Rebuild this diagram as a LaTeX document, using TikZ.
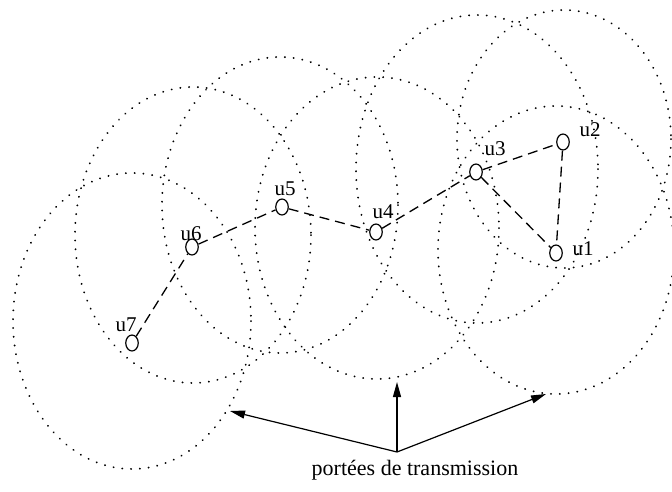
\documentclass[tikz,border=0pt]{standalone}
\usepackage{fontspec}
\setmainfont{Liberation Serif}
\usetikzlibrary{arrows.meta,shapes.geometric}
\begin{document}
\begin{tikzpicture}[x=1pt,y=-1pt,
  reach/.style={draw=black, line width=1.9pt, line cap=round,
                dash pattern=on 0.2pt off 8.6pt},
  station/.style={draw, ellipse, line width=1.2pt, inner sep=0pt,
                  minimum width=12.5pt, minimum height=16pt},
  hoplink/.style={draw, line width=1.3pt, dash pattern=on 10pt off 6pt},
  stname/.style={font=\fontsize{21}{21}\selectfont, inner sep=0pt, anchor=base},
  pointer/.style={draw, line width=1.2pt,
                  -{Triangle[length=15pt,width=8pt]}},
  captext/.style={font=\fontsize{22}{22}\selectfont, inner sep=0pt, anchor=base}
]
\useasboundingbox (0,0) rectangle (672,492);

% transmission ranges
\draw[reach] (556,250) ellipse [x radius=118, y radius=144];
\draw[reach] (564,139) ellipse [x radius=107, y radius=129];
\draw[reach] (477,169) ellipse [x radius=121, y radius=154];
\draw[reach] (377,228) ellipse [x radius=122, y radius=151];
\draw[reach] (280,205) ellipse [x radius=118, y radius=148];
\draw[reach] (193,235) ellipse [x radius=118, y radius=148];
\draw[reach] (132,321) ellipse [x radius=119, y radius=148];

% stations
\node[station] (u1) at (556,253) {};
\node[station] (u2) at (563,142) {};
\node[station] (u3) at (476,172) {};
\node[station] (u4) at (376,232) {};
\node[station] (u5) at (282,207) {};
\node[station] (u6) at (192,247) {};
\node[station] (u7) at (132,343) {};

% station names
\node[stname] (n1) at (583,255) {u1};
\node[stname] (n2) at (590,137) {u2};
\node[stname] (n3) at (495,156) {u3};
\node[stname] (n4) at (383,218) {u4};
\node[stname] (n5) at (285,195) {u5};
\node[stname] (n6) at (191,240) {u6};
\node[stname] (n7) at (126,331) {u7};

% links between neighbours
\draw[hoplink] (u7) -- (u6);
\draw[hoplink] (u6) -- (u5);
\draw[hoplink] (u5) -- (u4);
\draw[hoplink] (u4) -- (u3);
\draw[hoplink] (u3) -- (u2);
\draw[hoplink] (u3) -- (u1);
\draw[hoplink] (u2) -- (u1);

% caption with pointers to the ranges
\coordinate (hub) at (397,452);
\coordinate (tipL) at (230,411);
\coordinate (tipU) at (397,382);
\coordinate (tipR) at (546,394);
\draw[pointer] (hub) -- (tipL);
\draw[pointer] (hub) -- (tipU);
\draw[pointer] (hub) -- (tipR);
\node[captext] (cap) at (415,475) {portées de transmission};
\end{tikzpicture}
\end{document}
